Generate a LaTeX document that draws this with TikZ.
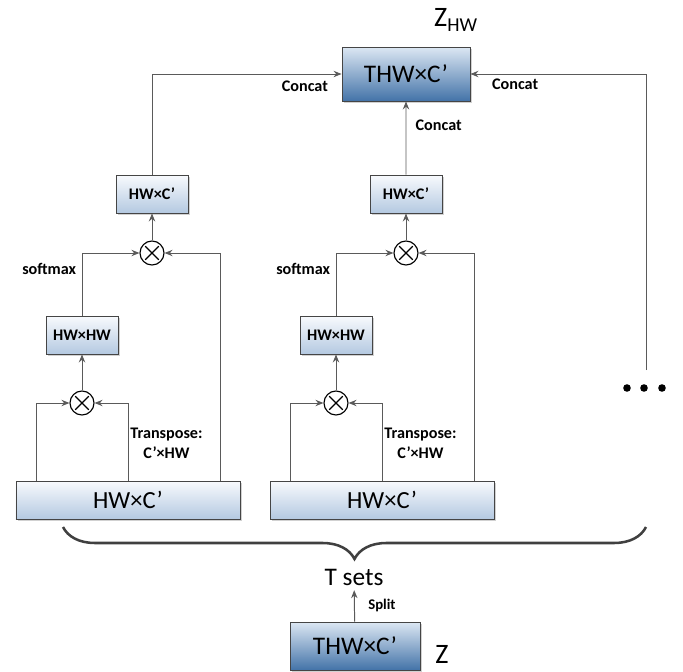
\documentclass[tikz,border=0pt]{standalone}
\usepackage{fontspec}
\setmainfont{Carlito}
\usetikzlibrary{arrows.meta}
\usetikzlibrary{calc}
\usetikzlibrary{shadows}
\usetikzlibrary{decorations.pathreplacing}
\definecolor{linegray}{HTML}{5A5A5A}
\definecolor{boxedge}{HTML}{454545}
\definecolor{darktop}{HTML}{DCE7F3}
\definecolor{darkbot}{HTML}{4373A8}
\definecolor{lighttop}{HTML}{F8FAFD}
\definecolor{lightbot}{HTML}{B4C9E1}
\tikzset{
    darkbox/.style={draw=boxedge, line width=0.6pt, top color=darktop, bottom color=darkbot,
        drop shadow={shadow xshift=0.04cm, shadow yshift=-0.04cm, fill=black!30, opacity=0.6},
        font=\fontsize{18}{20}\selectfont, minimum width=3.2cm, minimum height=1.35cm, inner sep=0pt},
    lightbox/.style={draw=boxedge, line width=0.6pt, top color=lighttop, bottom color=lightbot,
        drop shadow={shadow xshift=0.04cm, shadow yshift=-0.04cm, fill=black!30, opacity=0.6},
        minimum height=0.95cm, inner sep=0pt},
    smallbox/.style={lightbox, minimum width=1.8cm, font=\bfseries\fontsize{11.5}{13}\selectfont},
    widebox/.style={lightbox, minimum width=5.6cm, font=\fontsize{17.5}{20}\selectfont},
    conn/.style={draw=linegray, line width=0.7pt, -{Stealth[length=2mm,width=1.6mm]}},
    lab/.style={font=\bfseries\fontsize{11.5}{14.2}\selectfont, inner sep=1pt},
    mul/.style={circle, draw=black, line width=0.8pt, minimum size=0.6cm, inner sep=0pt, fill=white,
        path picture={
            \draw[line width=0.8pt] ([shift={(45:0.24cm)}]path picture bounding box.center) -- ([shift={(225:0.24cm)}]path picture bounding box.center);
            \draw[line width=0.8pt] ([shift={(135:0.24cm)}]path picture bounding box.center) -- ([shift={(-45:0.24cm)}]path picture bounding box.center);
        }}
}
\newcommand{\drawbranch}[2]{
    \begin{scope}[shift={(#2)}]
        \node[widebox] (#1in) at (0,0) {HW×C’};
        \node[mul] (#1low) at (-1.15,2.425) {};
        \node[smallbox] (#1hwhw) at (-1.15,4.125) {HW×HW};
        \node[mul] (#1up) at (0.6,6.175) {};
        \node[smallbox] (#1hwc) at (0.6,7.65) {HW×C’};
        \node[lab, align=center, anchor=west] (#1tr) at (0.02,1.425) {Transpose:\\C’×HW};
        \draw[conn] ([xshift=-2.3cm]#1in.north) |- (#1low.west);
        \draw[conn] (#1in.north) |- (#1low.east);
        \draw[conn] (#1low) -- (#1hwhw);
        \draw[conn] (#1hwhw) |- (#1up.west) node[lab, pos=0.37, left, xshift=-0.1cm] (#1soft) {softmax};
        \draw[conn] ([xshift=2.3cm]#1in.north) |- (#1up.east);
        \draw[conn] (#1up) -- (#1hwc);
    \end{scope}
}

\begin{document}
\begin{tikzpicture}
    \useasboundingbox (0,0) rectangle (17.075,-16.8);
    \node[darkbox] (thw) at (10.15,-1.85) {THW×C’};
    \node[font=\fontsize{20}{22}\selectfont] (zhw) at (11.4,-0.5) {Z\textsubscript{HW}};
    \drawbranch{A}{3.2,-12.5};
    \drawbranch{B}{9.55,-12.5};
    \draw[conn] (Ahwc.north) |- (thw.west);
    \draw[conn] (Bhwc.north) -- (thw.south);
    \coordinate (more) at (16.15,-9.25);
    \draw[conn] (more) |- (thw.east);
    \node[lab, anchor=north east] (catA) at ([xshift=-0.3cm,yshift=-0.12cm]thw.west) {Concat};
    \node[lab, anchor=north west] (catC) at ([xshift=0.5cm,yshift=-0.08cm]thw.east) {Concat};
    \node[lab, anchor=west] (catB) at ([xshift=0.2cm,yshift=-0.6cm]thw.south) {Concat};
    % remaining sets
    \fill[black] (15.675,-9.7) circle (0.095);
    \fill[black] (16.1,-9.7) circle (0.095);
    \fill[black] (16.55,-9.7) circle (0.095);
    \coordinate (braceR) at (16.15,-13.175);
    \coordinate (braceL) at (1.575,-13.175);
    \draw[decorate, decoration={brace, amplitude=0.8cm, aspect=0.5}, line width=1.8pt, draw=black!75] (braceR) -- (braceL);
    \node[font=\fontsize{18}{20}\selectfont] (tsets) at (8.85,-14.425) {T sets};
    \node[darkbox, minimum width=3.25cm, minimum height=1.2cm] (z) at (8.875,-16.15) {THW×C’};
    \draw[conn] (z) -- (tsets) node[lab, midway, right, xshift=0.3cm, font=\bfseries\fontsize{10.5}{12}\selectfont] (split) {Split};
    \node[font=\fontsize{20}{22}\selectfont, anchor=west] (zlab) at ([xshift=0.25cm,yshift=-0.2cm]z.east) {Z};
\end{tikzpicture}
\end{document}
